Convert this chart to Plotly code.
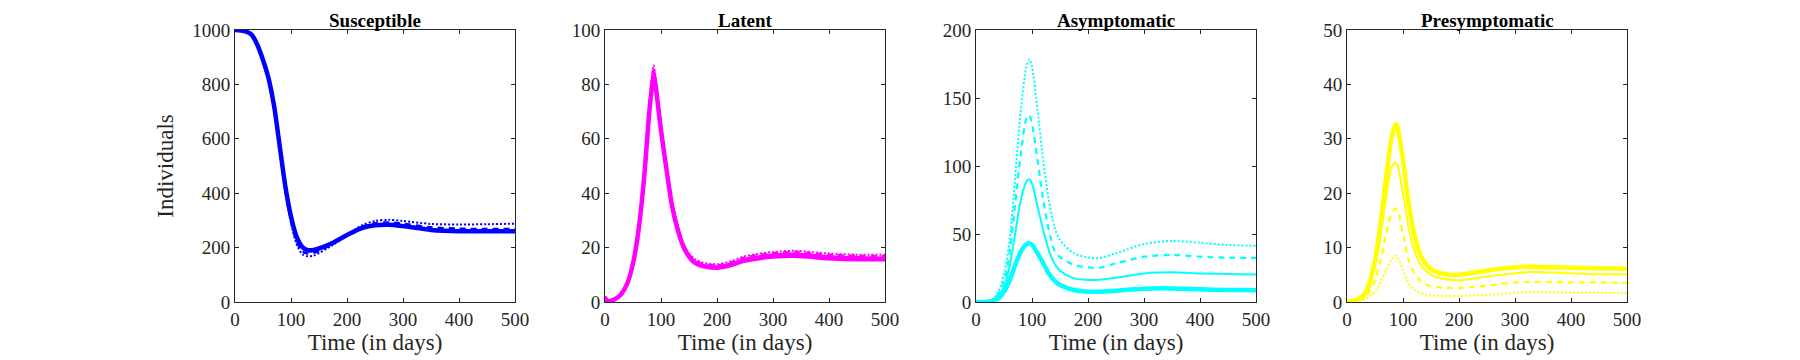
import plotly.graph_objects as go

# page has an 8px body margin; the figure is sized/positioned to compensate
OFF = 8
W, H = 1800 - OFF, 360 - OFF

# ---------------- data ----------------
panel_titles = ["Susceptible", "Latent", "Asymptomatic", "Presymptomatic"]
x_label = "Time (in days)"
y_label = "Individuals"

x_ticks = [0, 100, 200, 300, 400, 500]
y_ticks_S = [0, 200, 400, 600, 800, 1000]
y_ticks_L = [0, 20, 40, 60, 80, 100]
y_ticks_A = [0, 50, 100, 150, 200]
y_ticks_P = [0, 10, 20, 30, 40, 50]

t_S = [0, 10, 20, 30, 40, 50, 60, 70, 80, 90, 100, 110, 120, 130, 140, 150, 175, 200, 225, 250, 275, 300, 350, 400, 450, 500]
S_thick = [1000, 998, 994, 982, 945, 890, 822, 718, 571, 424, 314, 240, 203, 191, 191, 197, 218, 246, 271, 282, 284, 279, 265, 260, 260, 260]
S_thin = [1000, 998, 994, 981, 943, 887, 818, 712, 565, 418, 306, 232, 196, 186, 187, 194, 217, 247, 273, 285, 287, 282, 268, 263, 262, 262]
S_dash = [1000, 998, 993, 980, 941, 884, 814, 707, 558, 410, 298, 222, 186, 178, 180, 188, 214, 246, 276, 290, 293, 288, 275, 270, 269, 269]
S_dot = [1000, 998, 993, 979, 939, 881, 810, 702, 552, 402, 290, 213, 176, 168, 170, 180, 210, 245, 280, 298, 302, 298, 287, 285, 286, 288]

t_L = [0, 5, 10, 20, 30, 40, 50, 60, 70, 80, 87, 90, 100, 110, 120, 130, 140, 150, 160, 175, 200, 225, 250, 300, 340, 400, 450, 500]
L_thick = [1.5, 0.3, 0.4, 1.3, 3.2, 6.9, 14.2, 26.5, 46, 71.8, 83, 80, 63, 48.5, 35, 26.5, 20.3, 16.7, 14.5, 13.2, 12.6, 13.6, 15.2, 16.7, 17.0, 16.1, 15.7, 15.7]
L_thin = [1.8, 0.4, 0.5, 1.4, 3.4, 7.2, 14.6, 27.0, 47, 73.0, 85, 81, 64, 49.0, 35.5, 27.0, 20.8, 17.2, 15.0, 13.7, 13.1, 14.2, 15.9, 17.5, 17.8, 16.9, 16.5, 16.4]
L_dash = [2.0, 0.5, 0.6, 1.5, 3.5, 7.4, 15.0, 27.5, 47.5, 74.0, 86, 82, 65, 49.5, 36.0, 27.5, 21.2, 17.6, 15.4, 14.1, 13.5, 14.6, 16.4, 18.0, 18.4, 17.4, 17.0, 17.0]
L_dot = [2.2, 0.6, 0.7, 1.6, 3.6, 7.6, 15.3, 28.0, 48, 75.0, 87, 83, 66, 50.0, 36.5, 28.0, 21.6, 18.0, 15.8, 14.5, 13.9, 15.0, 16.8, 18.4, 18.8, 17.8, 17.4, 17.4]

t_A = [0, 20, 30, 40, 50, 60, 70, 80, 90, 95, 100, 110, 120, 130, 140, 150, 175, 200, 220, 250, 300, 350, 400, 450, 500]
A_thick = [0, 0.2, 1, 2.7, 7.6, 16, 27, 37, 42.4, 43.1, 42, 35.8, 28.4, 21, 15.7, 12.5, 8.8, 7.6, 7.5, 8.3, 9.8, 10, 9.3, 8.8, 8.6]
A_thin = [0, 0.3, 1.5, 4.4, 11, 26, 50.5, 75, 88.5, 90.2, 87, 70, 53, 38, 28.4, 23, 17.4, 16.2, 16.3, 17.9, 21, 21.8, 21, 20.6, 20.3]
A_dash = [0, 0.4, 1.8, 5.9, 15, 35.8, 72.5, 109, 135, 137.5, 131, 104, 75, 53, 38, 33, 27.2, 25.5, 25.2, 28.4, 33.3, 34.6, 33.3, 32.6, 32.4]
A_dot = [0, 0.5, 2, 7.6, 21, 45.6, 92, 141, 173, 178.4, 173, 141, 104, 75, 55.4, 45.6, 35.8, 32.8, 32.4, 35.8, 42.6, 44.9, 43.6, 41.9, 41.4]

t_P = [0, 10, 20, 30, 40, 50, 60, 70, 80, 87, 90, 100, 110, 120, 130, 140, 150, 175, 200, 250, 300, 330, 400, 450, 500]
P_thick = [0, 0.2, 0.5, 1.3, 3.4, 7.7, 14.5, 23, 30.4, 32.7, 32.2, 26.1, 18.1, 12.6, 8.9, 7.1, 6, 5.1, 5, 5.8, 6.4, 6.5, 6.3, 6.2, 6.1]
P_thin = [0, 0.2, 0.4, 1.0, 2.8, 6.5, 12, 19.4, 24.9, 25.6, 25.2, 20, 13.8, 9.6, 7.1, 5.8, 5, 4.2, 4, 4.7, 5.3, 5.5, 5.3, 5.1, 5.1]
P_dash = [0, 0.1, 0.3, 0.7, 1.9, 4, 7.7, 12.6, 16.3, 17.2, 16.9, 12.6, 7.7, 5.3, 4, 3.3, 2.9, 2.6, 2.6, 3, 3.6, 3.7, 3.6, 3.6, 3.5]
P_dot = [0, 0.1, 0.2, 0.4, 1, 1.9, 3.7, 5.9, 8, 8.5, 8.2, 5.9, 3.4, 2.3, 1.7, 1.4, 1.2, 1.1, 1.1, 1.3, 1.7, 1.8, 1.7, 1.7, 1.6]

# ---------------- styling ----------------
FONT = "Liberation Serif"
TXT = "#262626"
panels = [
    ("#0000FF", t_S, [S_thick, S_thin, S_dash, S_dot], [0, 1000], y_ticks_S),
    ("#FF00FF", t_L, [L_thick, L_thin, L_dash, L_dot], [0, 100], y_ticks_L),
    ("#00FFFF", t_A, [A_thick, A_thin, A_dash, A_dot], [0, 200], y_ticks_A),
    ("#FFFF00", t_P, [P_thick, P_thin, P_dash, P_dot], [0, 50], y_ticks_P),
]
styles = [(4.5, "solid"), (2.0, "solid"), (2.2, "6px,5px"), (2.0, "2px,2px")]
px_left = [235, 605, 976, 1347]   # screen pixels
px_w = 280
top_px, bot_px = 30, 302          # screen pixels

fig = go.Figure()
annotations = []
for i, (col, tx, series, yr, yt) in enumerate(panels):
    sfx = "" if i == 0 else str(i + 1)
    for (lw, dash), ys in zip(styles, series):
        fig.add_trace(go.Scatter(
            x=tx, y=ys, mode="lines",
            line=dict(color=col, width=lw, dash=dash, shape="spline", smoothing=0.8),
            xaxis="x" + sfx, yaxis="y" + sfx, showlegend=False, hoverinfo="skip"))
    x0 = (px_left[i] - OFF) / W
    x1 = (px_left[i] + px_w - OFF) / W
    axis_common = dict(
        showline=True, linecolor="#262626", linewidth=1, mirror="ticks",
        ticks="inside", ticklen=4, tickcolor="#262626", tickwidth=1,
        showgrid=False, zeroline=False, automargin=False,
        tickfont=dict(family=FONT, size=19, color=TXT),
    )
    fig.update_layout({
        "xaxis" + sfx: dict(
            domain=[x0, x1], range=[0, 500], tickvals=x_ticks,
            anchor="y" + sfx,
            title=dict(text=x_label, font=dict(family=FONT, size=23, color=TXT), standoff=4),
            **axis_common),
        "yaxis" + sfx: dict(
            domain=[1 - (bot_px - OFF) / H, 1 - (top_px - OFF) / H], range=yr, tickvals=yt,
            anchor="x" + sfx,
            title=dict(text=y_label if i == 0 else "", font=dict(family=FONT, size=23, color=TXT), standoff=12),
            **axis_common),
    })
    annotations.append(dict(
        text="<b>" + panel_titles[i] + "</b>", x=(x0 + x1) / 2, y=1,
        xref="paper", yref="paper", xanchor="center", yanchor="top",
        showarrow=False, font=dict(family=FONT, size=19, color="#000000")))

fig.update_layout(
    width=W, height=H, margin=dict(l=0, r=0, t=0, b=0),
    paper_bgcolor="white", plot_bgcolor="white",
    annotations=annotations,
)
fig.write_html("out.html")
